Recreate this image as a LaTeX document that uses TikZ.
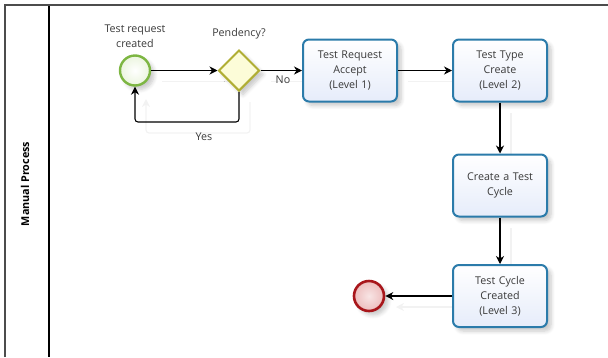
\documentclass[tikz,border=0pt]{standalone}
\usepackage{fontspec}
\setmainfont{Open Sans}
\usetikzlibrary{arrows.meta,shapes.geometric,shadows.blur,calc}

\definecolor{taskline}{HTML}{2B7BAA}
\definecolor{taskfill}{HTML}{E6ECFA}
\definecolor{startline}{HTML}{7DB642}
\definecolor{startfill}{HTML}{E4F4C8}
\definecolor{endline}{HTML}{A8161B}
\definecolor{endfill}{HTML}{EDBDBD}
\definecolor{gwline}{HTML}{B0AE34}
\definecolor{gwfill}{HTML}{FCFCD8}
\definecolor{txt}{HTML}{3A3A3A}

\tikzset{
  x=1pt, y=-1pt,
  softshadow/.style={blur shadow={shadow xshift=4pt, shadow yshift=-4pt, shadow blur steps=6, shadow blur radius=4pt, shadow opacity=22}},
  task/.style={draw=taskline, line width=2pt, rounded corners=6pt,
    top color=white, bottom color=taskfill, softshadow,
    minimum width=94pt, minimum height=62pt, text width=90pt, align=center,
    inner sep=0pt, font=\fontsize{10.7}{15}\selectfont, text=txt},
  startev/.style={circle, draw=startline, line width=2.4pt, inner color=white, outer color=startfill!70!startline!35,
    minimum size=30pt, inner sep=0pt, softshadow},
  endev/.style={circle, draw=endline, line width=2.6pt, inner color=endfill!40, outer color=endfill,
    minimum size=30pt, inner sep=0pt, softshadow},
  gateway/.style={diamond, draw=gwline, line width=2pt, fill=gwfill, minimum size=41pt, inner sep=0pt, softshadow},
  lbl/.style={font=\fontsize{10.7}{15}\selectfont, text=txt, align=center, inner sep=0pt},
  flow/.style={draw=black, line width=1.1pt, -{Stealth[length=8pt,width=8pt,inset=2.5pt]}},
  ghost/.style={draw=black!5, line width=1.2pt, -{Stealth[length=8pt,width=8pt,inset=2.5pt]}},
  frame/.style={line width=1.4pt}
}

\begin{document}
\begin{tikzpicture}
\useasboundingbox (0,0) rectangle (608,357);

% pool frame and lane header
\draw[frame, draw=black!70] (5,357) -- (5,5) -- (608,5);
\draw[frame, draw=black] (49,6) -- (49,357);
\node[rotate=90, font=\fontsize{10.8}{12}\selectfont\bfseries] (lane) at (25,184) {Manual Process};

% faint connector shadows
\begin{scope}[shift={(11,11)}]
  \draw[ghost, -] (151,70.5) -- (218,70.5);
  \draw[ghost, -] (260,70.5) -- (302,70.5);
  \draw[ghost, -] (397,70.5) -- (452,70.5);
  \draw[ghost, -] (500,102) -- (500,154);
  \draw[ghost, -] (500,217) -- (500,264);
  \draw[ghost] (452,296) -- (385,296);
  \draw[ghost, rounded corners=3pt] (239,91) -- (239,122) -- (135,122) -- (135,88);
\end{scope}

% events, gateway and tasks
\node[startev] (start) at (135,70.5) {};
\node[gateway] (gw) at (239,70.5) {};
\node[task] (t1) at (350,70.5) {Test Request\\Accept\\(Level 1)};
\node[task] (t2) at (500,70.5) {Test Type\\Create\\(Level 2)};
\node[task] (t3) at (500,185.5) {Create a Test\\Cycle};
\node[task] (t4) at (500,296) {Test Cycle\\Created\\(Level 3)};
\node[endev] (end) at (369,296) {};

% labels
\node[lbl] (startlbl) at (135,36.5) {Test request\\created};
\node[lbl] (gwlbl) at (239,34) {Pendency?};
\node[lbl] (nolbl) at (283,80) {No};
\node[lbl] (yeslbl) at (204,137) {Yes};

% sequence flows
\draw[flow] (start.east) -- (gw.west);
\draw[flow] (gw.east) -- (t1.west);
\draw[flow] (t1.east) -- (t2.west);
\draw[flow] (t2.south) -- (t3.north);
\draw[flow] (t3.south) -- (t4.north);
\draw[flow] (t4.west) -- (end.east);
\coordinate (loopr) at (239,122);
\coordinate (loopl) at (135,122);
\draw[flow, rounded corners=3pt] (gw.south) -- (loopr) -- (loopl) -- (start.south);
\end{tikzpicture}
\end{document}
